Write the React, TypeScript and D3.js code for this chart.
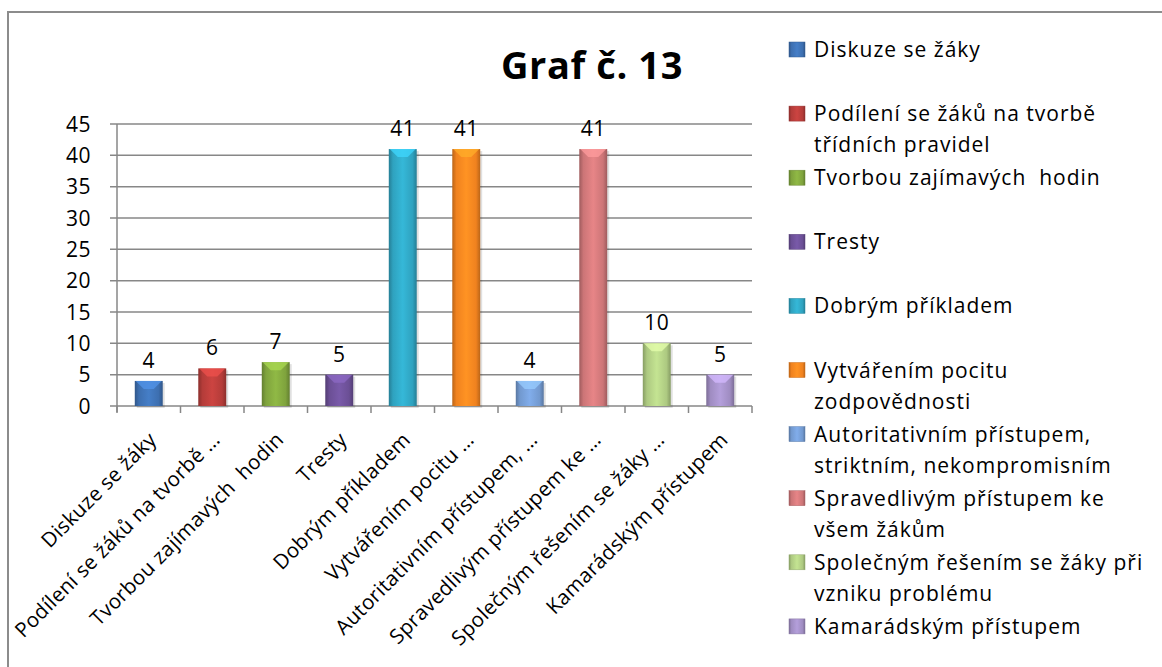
import React from "react";
import * as d3 from "d3";

// data
const categories = [
  "Diskuze se žáky",
  "Podílení se žáků na tvorbě třídních pravidel",
  "Tvorbou zajímavých  hodin",
  "Tresty",
  "Dobrým příkladem",
  "Vytvářením pocitu zodpovědnosti",
  "Autoritativním přístupem, striktním, nekompromisním",
  "Spravedlivým přístupem ke všem žákům",
  "Společným řešením se žáky při vzniku problému",
  "Kamarádským přístupem",
];
const values = [4, 6, 7, 5, 41, 41, 4, 41, 10, 5];
const axisLabels = [
  "Diskuze se žáky",
  "Podílení se žáků na tvorbě …",
  "Tvorbou zajímavých  hodin",
  "Tresty",
  "Dobrým příkladem",
  "Vytvářením pocitu …",
  "Autoritativním přístupem, …",
  "Spravedlivým přístupem ke …",
  "Společným řešením se žáky …",
  "Kamarádským přístupem",
];
const legendLines = [
  ["Diskuze se žáky"],
  ["Podílení se žáků na tvorbě", "třídních pravidel"],
  ["Tvorbou zajímavých  hodin"],
  ["Tresty"],
  ["Dobrým příkladem"],
  ["Vytvářením pocitu", "zodpovědnosti"],
  ["Autoritativním přístupem,", "striktním, nekompromisním"],
  ["Spravedlivým přístupem ke", "všem žákům"],
  ["Společným řešením se žáky při", "vzniku problému"],
  ["Kamarádským přístupem"],
];
const colors = [
  "#3d6fb0", "#b43c39", "#7fa33d", "#6b4f95", "#2fa2bf",
  "#f0821f", "#7299cf", "#cc7577", "#adc981", "#9f8cc1",
];
const yTicks = [0, 5, 10, 15, 20, 25, 30, 35, 40, 45];

const FONT = "'Open Sans', 'Noto Sans', sans-serif";
const W = 1162;
const H = 667;
const plot = { left: 117, right: 752, top: 124, bottom: 406 };

export default function App() {
  const x = d3
    .scaleBand<number>()
    .domain(d3.range(values.length))
    .range([plot.left, plot.right]);
  const y = d3.scaleLinear().domain([0, 45]).range([plot.bottom, plot.top]);
  const barW = x.bandwidth() * 0.44;
  const grid = "#878787";

  return (
    <svg
      width={W}
      height={H}
      style={{ position: "absolute", left: 0, top: 0, background: "#fff" }}
      fontFamily={FONT}
    >
      <defs>
        {colors.map((c, i) => {
          const dk = d3.color(c)!.darker(0.7).formatHex();
          const lt = d3.color(c)!.brighter(0.35).formatHex();
          return (
            <linearGradient key={i} id={"g" + i} x1="0" x2="1" y1="0" y2="0">
              <stop offset="0" stopColor={dk} />
              <stop offset="0.15" stopColor={c} />
              <stop offset="0.5" stopColor={lt} />
              <stop offset="0.85" stopColor={c} />
              <stop offset="1" stopColor={dk} />
            </linearGradient>
          );
        })}
      </defs>

      {/* outer frame */}
      <rect x={8} y={12} width={1200} height={700} fill="none" stroke="#8c8c8c" strokeWidth={2} />

      {/* title */}
      <text x={592} y={79} textAnchor="middle" fontSize={38} fontWeight="bold" letterSpacing={0.6} fill="#000">
        Graf č. 13
      </text>

      {/* gridlines + y axis */}
      {yTicks.map((t) => (
        <g key={t}>
          <line x1={plot.left - 7} x2={plot.right} y1={y(t)} y2={y(t)} stroke={grid} strokeWidth={1.5} />
          <text x={91} y={y(t)} dy="0.36em" textAnchor="end" fontSize={21} letterSpacing={0.5} fill="#000">
            {t}
          </text>
        </g>
      ))}
      <line x1={plot.left} x2={plot.left} y1={plot.top} y2={plot.bottom + 6} stroke={grid} strokeWidth={1.5} />
      {d3.range(values.length + 1).map((i) => {
        const xx = i < values.length ? x(i)! : plot.right;
        return (
          <line key={i} x1={xx} x2={xx} y1={plot.bottom} y2={plot.bottom + 7} stroke={grid} strokeWidth={1.5} />
        );
      })}

      {/* bars */}
      {values.map((v, i) => {
        const bx = x(i)! + (x.bandwidth() - barW) / 2;
        const top = y(v);
        const h = plot.bottom - top;
        const lt = d3.color(colors[i])!.brighter(0.8).formatHex();
        return (
          <g key={i}>
            <rect x={bx + 2} y={top + 2} width={barW} height={h} fill="#000" opacity={0.12} />
            <rect x={bx} y={top} width={barW} height={h} fill={`url(#g${i})`} />
            <polygon
              points={`${bx + 1},${top} ${bx + barW - 1},${top} ${bx + barW / 2 + 5},${top + 8} ${bx + barW / 2 - 5},${top + 8}`}
              fill={lt}
              opacity={0.75}
            />
            <text x={bx + barW / 2} y={top - 13} textAnchor="middle" fontSize={21} letterSpacing={0.5} fill="#000">
              {v}
            </text>
          </g>
        );
      })}

      {/* x axis labels */}
      {axisLabels.map((l, i) => {
        const cx = x(i)! + x.bandwidth() / 2;
        return (
          <text
            key={i}
            transform={`translate(${cx + 9},${441}) rotate(-45)`}
            textAnchor="end"
            fontSize={20.5}
            letterSpacing={0.3}
            xmlSpace="preserve"
            fill="#000"
          >
            {l}
          </text>
        );
      })}

      {/* legend */}
      {categories.map((c, i) => {
        const base = 57 + 64.1 * i;
        return (
          <g key={c}>
            <rect x={789} y={base - 15} width={16} height={15} fill={`url(#g${i})`} stroke={d3.color(colors[i])!.darker(0.5).formatHex()} strokeWidth={0.5} />
            {legendLines[i].map((ln, j) => (
              <text key={j} x={814} y={base + j * 31} fontSize={21} letterSpacing={1} xmlSpace="preserve" fill="#000">
                {ln}
              </text>
            ))}
          </g>
        );
      })}
    </svg>
  );
}
